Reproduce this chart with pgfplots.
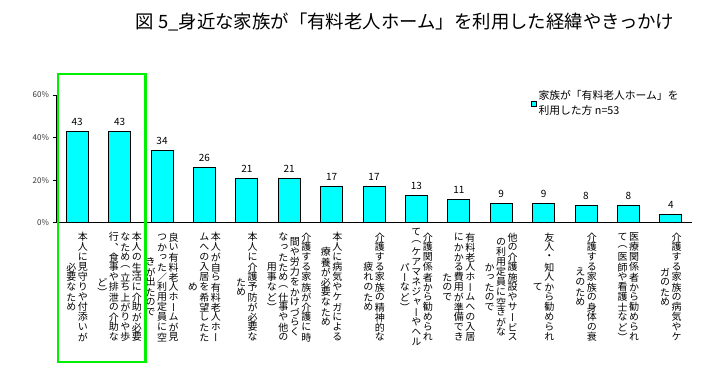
\documentclass[border=0pt]{standalone}
\usepackage{fontspec}
\usepackage{pgfplots}
\usepackage{pgfplotstable}
\pgfplotsset{compat=1.18}
\setmainfont{Noto Sans CJK JP}
\newfontfamily\vfont[RawFeature=+vert]{Noto Sans CJK JP}
\definecolor{barcyan}{RGB}{0,255,255}
\definecolor{hlgreen}{RGB}{0,240,0}
\makeatletter
\newcommand\vcol[1]{\hbox to 11.5bp{\hss$\vcenter{\offinterlineskip\@tfor\vc:=#1\do{\vbox to 10bp{\vss\hbox to 10bp{\hss\vc\hss}\vss}}}$\hss}}
\makeatother
\tikzset{lbl/.style={anchor=center, inner sep=0pt,
    font=\vfont\fontsize{10bp}{11.5bp}\selectfont}}
\pgfplotstableread{
x y
1 43
2 43
3 34
4 26
5 21
6 21
7 17
8 17
9 13
10 11
11 9
12 9
13 8
14 8
15 4
}\datatable
\begin{document}
\begin{tikzpicture}
\useasboundingbox (-56bp,-147.3bp) rectangle (660bp,222.7bp);
\begin{axis}[
  at={(0,0)}, anchor=south west,
  scale only axis, width=636bp, height=127.7bp,
  xmin=0.5, xmax=15.5, ymin=0, ymax=60,
  axis x line=bottom, axis y line=left,
  axis line style={-, black, line width=0.8pt},
  xtick=\empty,
  ytick={0,20,40,60},
  yticklabel={\pgfmathprintnumber{\tick}\%},
  /pgf/number format/assume math mode=true,
  yticklabel style={font=\fontsize{8bp}{9bp}\selectfont, text=black!80},
  tick align=outside, major tick length=3.5bp,
  tick style={black, line width=0.6pt},
  clip=false,
  legend style={at={(0.745,1.06)}, anchor=north west, draw=none, fill=none,
    font=\fontsize{10.8bp}{15bp}\selectfont, inner sep=1pt,
    cells={anchor=west, align=left}},
  legend image code/.code={\draw[fill=barcyan, draw=black, line width=0.5pt] (0bp,-2.5bp) rectangle (5bp,2.5bp);},
]
\addplot[ybar, bar width=22bp, fill=barcyan, draw=black, line width=0.7pt,
  nodes near coords, every node near coord/.style={font=\fontsize{10bp}{11bp}\selectfont, yshift=2bp}]
  table[x=x, y=y]{\datatable};
\addlegendentry{家族が「有料老人ホーム」を\\利用した方 n=53}

\node[lbl] at ([yshift=-64.5bp]axis cs:1,0) {\vcol{必要なため}\vcol{本人に見守りや付添いが}};
\node[lbl] at ([yshift=-64.5bp]axis cs:2,0) {\vcol{ど）}\vcol{行、食事や排泄の介助な}\vcol{なため（立ち上がりや歩}\vcol{本人の生活に介助が必要}};
\node[lbl] at ([yshift=-64.5bp]axis cs:3,0) {\vcol{きが出たので}\vcol{つかった／利用定員に空}\vcol{良い有料老人ホームが見}};
\node[lbl] at ([yshift=-64.5bp]axis cs:4,0) {\vcol{め}\vcol{ムへの入居を希望したた}\vcol{本人が自ら有料老人ホー}};
\node[lbl] at ([yshift=-64.5bp]axis cs:5,0) {\vcol{ため}\vcol{本人に介護予防が必要な}};
\node[lbl] at ([yshift=-64.5bp]axis cs:6,0) {\vcol{用事など）}\vcol{なったため（仕事や他の}\vcol{間や労力をかけづらく}\vcol{介護する家族が介護に時}};
\node[lbl] at ([yshift=-64.5bp]axis cs:7,0) {\vcol{療養が必要なため}\vcol{本人に病気やケガによる}};
\node[lbl] at ([yshift=-64.5bp]axis cs:8,0) {\vcol{疲れのため}\vcol{介護する家族の精神的な}};
\node[lbl] at ([yshift=-64.5bp]axis cs:9,0) {\vcol{パーなど）}\vcol{て（ケアマネジャーやヘル}\vcol{介護関係者から勧められ}};
\node[lbl] at ([yshift=-64.5bp]axis cs:10,0) {\vcol{たので}\vcol{にかかる費用が準備でき}\vcol{有料老人ホームへの入居}};
\node[lbl] at ([yshift=-64.5bp]axis cs:11,0) {\vcol{かったので}\vcol{の利用定員に空きがな}\vcol{他の介護施設やサービス}};
\node[lbl] at ([yshift=-64.5bp]axis cs:12,0) {\vcol{て}\vcol{友人・知人から勧められ}};
\node[lbl] at ([yshift=-64.5bp]axis cs:13,0) {\vcol{えのため}\vcol{介護する家族の身体の衰}};
\node[lbl] at ([yshift=-64.5bp]axis cs:14,0) {\vcol{て（医師や看護士など）}\vcol{医療関係者から勧められ}};
\node[lbl] at ([yshift=-64.5bp]axis cs:15,0) {\vcol{ガのため}\vcol{介護する家族の病気やケ}};
\end{axis}
\node[font=\fontsize{18.4bp}{20bp}\selectfont] at (349bp,201bp) {図 5\_身近な家族が「有料老人ホーム」を利用した経緯やきっかけ};
\draw[hlgreen, line width=2.2bp] (1.7bp,149bp) rectangle (89.5bp,-139.3bp);
\end{tikzpicture}
\end{document}
